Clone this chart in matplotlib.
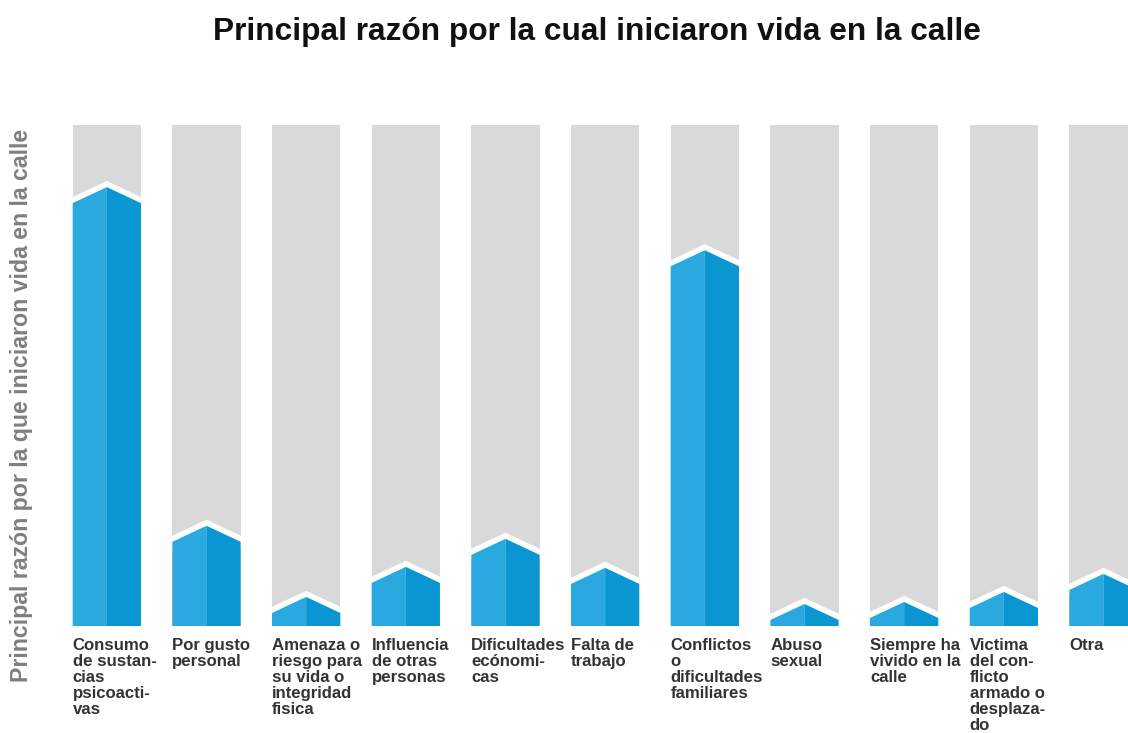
import matplotlib
matplotlib.use("Agg")
import matplotlib.pyplot as plt
from matplotlib.patches import Polygon, Rectangle
from matplotlib.lines import Line2D

plt.rcParams['font.family'] = ['Liberation Sans', 'DejaVu Sans']

title = "Principal razón por la cual iniciaron vida en la calle"
ylabel = "Principal razón por la que iniciaron vida en la calle"
categories = [
    "Consumo\nde sustan-\ncias\npsicoacti-\nvas",
    "Por gusto\npersonal",
    "Amenaza o\nriesgo para\nsu vida o\nintegridad\nfisica",
    "Influencia\nde otras\npersonas",
    "Dificultades\necónomi-\ncas",
    "Falta de\ntrabajo",
    "Conflictos\no\ndificultades\nfamiliares",
    "Abuso\nsexual",
    "Siempre ha\nvivido en la\ncalle",
    "Victima\ndel con-\nflicto\narmado o\ndesplaza-\ndo",
    "Otra",
]
values = [87.6, 20.0, 5.8, 11.8, 17.4, 11.6, 75.0, 4.4, 4.8, 6.8, 10.4]
max_value = 100.0

W, H = 1128, 733
fig = plt.figure(figsize=(W / 100, H / 100), dpi=100)
ax_left_px, ax_right_px = 57.0, 1128.0
ax_bottom_px, ax_top_px = 626.0, 125.0
ax = fig.add_axes([ax_left_px / W, (H - ax_bottom_px) / H,
                   (ax_right_px - ax_left_px) / W, (ax_bottom_px - ax_top_px) / H])
ax.set_xlim(-0.5, 10.246)
ax.set_ylim(0, max_value)
ax.axis('off')

bar_w = 0.685
notch = 3.2
gray = '#d9d9d9'
blue_l = '#2aa8e0'
blue_r = '#0a96d3'

for i, v in enumerate(values):
    x0 = i - bar_w / 2
    x1 = i + bar_w / 2
    bg = Rectangle((x0, 0), bar_w, max_value, facecolor=gray, edgecolor='none', zorder=1)
    ax.add_patch(bg)
    shoulder = max(v - notch, 0)
    left = Polygon([(x0, 0), (x0, shoulder), (i, v), (i, 0)], closed=True,
                   facecolor=blue_l, edgecolor='none', zorder=3)
    right = Polygon([(i, 0), (i, v), (x1, shoulder), (x1, 0)], closed=True,
                    facecolor=blue_r, edgecolor='none', zorder=3)
    ax.add_patch(left)
    ax.add_patch(right)
    ln = Line2D([x0 - 0.05, x0, i, x1, x1 + 0.05],
                [shoulder - notch * 0.15, shoulder, v, shoulder, shoulder - notch * 0.15],
                color='white', linewidth=8, solid_joinstyle='miter', solid_capstyle='butt', zorder=2)
    ax.add_line(ln)
    ln.set_clip_path(bg)
    ax.annotate(categories[i], xy=(x0, 0), xycoords=ax.get_xaxis_transform(),
                xytext=(0, -12), textcoords='offset pixels', ha='left', va='top',
                fontsize=12.1, fontweight='bold', color='#333333', linespacing=1.09,
                annotation_clip=False)

fig.text(597 / W, 1 - 32 / H, title, ha='center', va='center', fontsize=22.8,
         fontweight='bold', color='#111111')
fig.text(22 / W, 1 - 405 / H, ylabel, ha='center', va='center', rotation=90,
         fontsize=16.7, fontweight='bold', color='#7f7f7f')

fig.savefig('out.png', dpi=100)
